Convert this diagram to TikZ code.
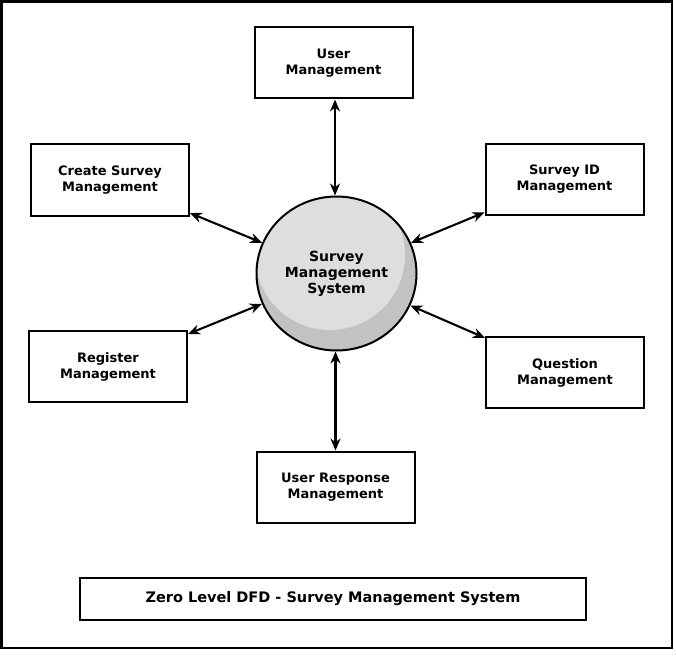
\documentclass[tikz,border=0pt]{standalone}
\usepackage{fontspec}
\setmainfont{DejaVu Sans}
\usetikzlibrary{arrows.meta,shapes.geometric,calc}
\definecolor{smslight}{RGB}{222,222,222}
\definecolor{smsdark}{RGB}{194,194,194}
\tikzset{
  procbox/.style={draw, line width=2pt, minimum width=158pt, minimum height=71pt,
    align=center, font=\fontsize{13}{16}\selectfont\bfseries, inner sep=0pt},
  flow/.style={line width=2.1pt, {Stealth[length=12pt,width=10pt]}-{Stealth[length=12pt,width=10pt]}},
}
\begin{document}
\begin{tikzpicture}[x=1pt,y=-1pt]
\useasboundingbox (0,0) rectangle (676,655);
\fill[white] (0,0) rectangle (676,655);
\draw[line width=2.6pt] (1.5,1.5) rectangle (672,648);
\node[ellipse, draw, line width=2pt, minimum width=160pt, minimum height=154pt, fill=smsdark,
  inner sep=0pt, align=center, font=\fontsize{14}{16}\selectfont\bfseries,
  path picture={\fill[smslight] ($(path picture bounding box.center)+(-6.5,-18.5)$) circle[radius=75pt];}]
  (sms) at (336.5,273.5) {Survey\\Management\\System};
\node[procbox] (um) at (333.5,63) {User\\Management};
\node[procbox] (cs) at (110,180) {Create Survey\\Management};
\node[procbox] (sid) at (564.5,179.5) {Survey ID\\Management};
\node[procbox] (reg) at (108,366.5) {Register\\Management};
\node[procbox] (qm) at (565,372.5) {Question\\Management};
\node[procbox] (ur) at (335.5,487) {User Response\\Management};
\node[draw, line width=2pt, minimum width=506pt, minimum height=42pt, inner sep=0pt,
  font=\fontsize{14.5}{17}\selectfont\bfseries] (title) at (333,599) {Zero Level DFD - Survey Management System};
\draw[flow] ([xshift=-1.5pt]sms.north |- um.south) -- ([xshift=-1.5pt]sms.north);
\draw[flow] (cs) -- (sms);
\draw[flow] (sid) -- (sms);
\draw[flow] (reg) -- (sms);
\draw[flow] (qm) -- (sms);
\draw[flow] ([xshift=-1pt]sms.south |- ur.north) -- ([xshift=-1pt]sms.south);
\end{tikzpicture}
\end{document}
